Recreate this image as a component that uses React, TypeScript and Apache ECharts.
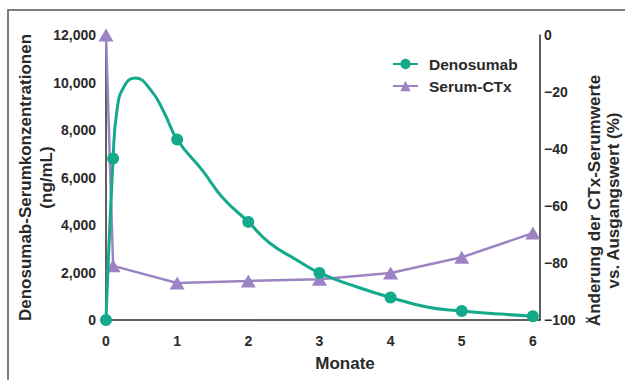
import React, { useEffect, useRef } from "react";
import * as echarts from "echarts";

// Denosumab concentration curve (months, ng/mL)
const denoCurveMonths = [0, 0.1, 0.155, 0.25, 0.41, 0.63, 0.815, 1, 1.36, 1.64, 2, 2.3, 2.68, 3, 3.53, 4, 4.51, 5, 5.54, 6];
const denoCurveValues = [0, 6800, 8840, 9810, 10190, 9680, 8750, 7600, 6280, 5150, 4130, 3240, 2530, 1980, 1390, 950, 550, 380, 250, 160];
// Months at which Denosumab markers are drawn
const denoMarkerMonths = [0, 0.1, 1, 2, 3, 4, 5, 6];
// Serum-CTx change vs baseline (%)
const ctxMonths = [0, 0.1, 1, 2, 3, 4, 5, 6];
const ctxValues = [0, -81, -87, -86.3, -85.7, -83.5, -78, -69.5];

const seriesNames = ["Denosumab", "Serum-CTx"];
const xAxisTitle = "Monate";
const leftAxisTitle = "Denosumab-Serumkonzentrationen\n(ng/mL)";
const rightAxisTitle = "Änderung der CTx-Serumwerte\nvs. Ausgangswert (%)";

const GREEN = "#14A98A";
const PURPLE = "#9C84C4";
const TEXT = "#2a2a2a";
const AXIS = "#2b2b2b";
const FONT = "'Liberation Sans', Arial, Helvetica, sans-serif";

export default function App() {
  const ref = useRef<HTMLDivElement>(null);

  useEffect(() => {
    if (!ref.current) return;
    document.body.style.margin = "0";
    const chart = echarts.init(ref.current, undefined, { renderer: "svg" });

    const denoData = denoCurveMonths.map((m, i) => {
      const isMarker = denoMarkerMonths.includes(m);
      return isMarker
        ? { value: [m, denoCurveValues[i]] }
        : { value: [m, denoCurveValues[i]], symbol: "none" };
    });
    const ctxData = ctxMonths.map((m, i) => [m, ctxValues[i]]);

    const labelStyle = { fontSize: 14, fontWeight: "bold" as const, color: TEXT, fontFamily: FONT };
    const titleStyle = { fontSize: 17, fontWeight: "bold" as const, color: TEXT, fontFamily: FONT, lineHeight: 21 };

    chart.setOption({
      animation: false,
      backgroundColor: "#ffffff",
      textStyle: { fontFamily: FONT },
      graphic: [
        {
          type: "rect",
          shape: { x: 8, y: 10, width: 800, height: 600 },
          style: { fill: "none", stroke: "#555555", lineWidth: 1.5 },
          silent: true,
          z: -10,
        },
      ],
      grid: { left: 106, right: 85, top: 35, bottom: 60, containLabel: false, outerBoundsMode: "none" },
      legend: {
        data: seriesNames,
        orient: "vertical",
        left: 387,
        top: 51,
        itemWidth: 25,
        itemHeight: 13,
        itemGap: 6,
        textStyle: { fontSize: 15.5, fontWeight: "bold", color: TEXT, fontFamily: FONT, padding: [0, 0, 0, 6] },
      },
      xAxis: {
        type: "value",
        min: 0,
        max: 6.1,
        interval: 1,
        axisLine: { show: true, lineStyle: { color: AXIS, width: 1.5 } },
        axisTick: { show: false },
        splitLine: { show: false },
        axisLabel: { ...labelStyle, margin: 14, showMaxLabel: false },
        name: xAxisTitle,
        nameLocation: "middle",
        nameGap: 33,
        nameMoveOverlap: false,
        nameTextStyle: { ...titleStyle, padding: [0, 0, 0, 44] },
      },
      yAxis: [
        {
          type: "value",
          position: "left",
          min: 0,
          max: 12000,
          interval: 2000,
          axisLine: { show: true, lineStyle: { color: AXIS, width: 1.5 } },
          axisTick: { show: false },
          splitLine: { show: false },
          axisLabel: {
            ...labelStyle,
            margin: 10,
            formatter: (v: number) => v.toLocaleString("en-US"),
          },
          name: leftAxisTitle,
          nameLocation: "middle",
          nameGap: 49,
          nameMoveOverlap: false,
          nameTextStyle: titleStyle,
        },
        {
          type: "value",
          position: "right",
          min: -100,
          max: 0,
          interval: 20,
          axisLine: { show: true, lineStyle: { color: AXIS, width: 1.5 } },
          axisTick: { show: false },
          splitLine: { show: false },
          axisLabel: {
            ...labelStyle,
            margin: 4,
            formatter: (v: number) => (v < 0 ? "\u2212" + Math.abs(v) : String(v)),
          },
          name: rightAxisTitle,
          nameLocation: "middle",
          nameGap: 45,
          nameMoveOverlap: false,
          nameTextStyle: { ...titleStyle, lineHeight: 19, padding: [0, 46, 0, 0] },
        },
      ],
      series: [
        {
          name: "Serum-CTx",
          type: "line",
          yAxisIndex: 1,
          data: ctxData,
          symbol: "triangle",
          symbolSize: [15, 13],
          lineStyle: { color: PURPLE, width: 2.5 },
          itemStyle: { color: PURPLE },
          z: 2,
        },
        {
          name: "Denosumab",
          type: "line",
          yAxisIndex: 0,
          data: denoData,
          symbol: "circle",
          symbolSize: 12,
          smooth: 0.5,
          lineStyle: { color: GREEN, width: 3 },
          itemStyle: { color: GREEN },
          z: 3,
        },
      ],
    });

    return () => chart.dispose();
  }, []);

  return <div ref={ref} style={{ width: 625, height: 380, position: "absolute", left: 0, top: 0 }} />;
}
